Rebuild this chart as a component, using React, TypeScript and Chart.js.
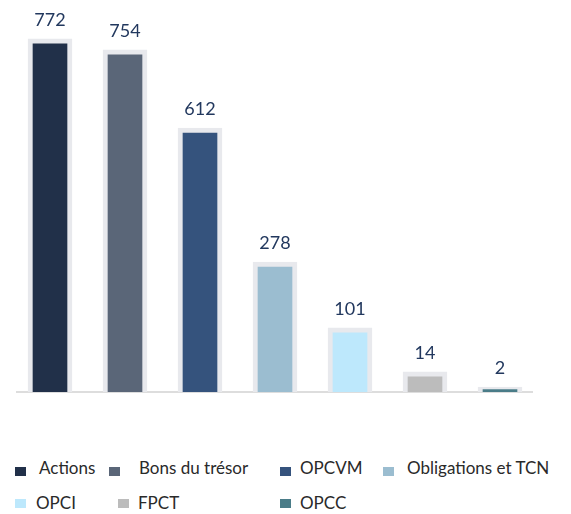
import React, { useEffect, useRef } from "react";
import { Chart, registerables } from "chart.js";

Chart.register(...registerables);

const categories = ["Actions", "Bons du trésor", "OPCVM", "Obligations et TCN", "OPCI", "FPCT", "OPCC"];
const valueLabels = [772, 754, 612, 278, 101, 14, 2];
// bar heights as drawn in the picture (not proportional to the printed counts)
const barHeights = [772, 748, 577, 284, 140, 44, 11];
const colors = ["#213049", "#5a6678", "#35537d", "#9bbdd0", "#bde8fc", "#bcbcbc", "#4a7c88"];
const frameColor = "#e8e9ed";

const legendLayout = [
  { box: 15, text: 39, row: 0 },
  { box: 109, text: 139, row: 0 },
  { box: 280, text: 300, row: 0 },
  { box: 383, text: 407, row: 0 },
  { box: 15, text: 36, row: 1 },
  { box: 118, text: 138, row: 1 },
  { box: 280, text: 300, row: 1 },
];

const labelPlugin = {
  id: "valueLabels",
  afterDatasetsDraw(chart: any) {
    const ctx = chart.ctx;
    const meta = chart.getDatasetMeta(0);
    ctx.save();
    ctx.font = "18px Lato";
    ctx.fillStyle = "#22385e";
    ctx.textAlign = "center";
    ctx.textBaseline = "alphabetic";
    meta.data.forEach((bar: any, i: number) => {
      ctx.fillText(String(valueLabels[i]), bar.x, bar.y - 13);
    });
    ctx.restore();
  },
  beforeDatasetsDraw(chart: any) {
    const { ctx, chartArea } = chart;
    ctx.save();
    ctx.strokeStyle = "#dddddd";
    ctx.lineWidth = 2;
    ctx.beginPath();
    ctx.moveTo(16, chartArea.bottom);
    ctx.lineTo(533, chartArea.bottom);
    ctx.stroke();
    ctx.restore();
  },
};

export default function App() {
  const ref = useRef<HTMLCanvasElement>(null);
  useEffect(() => {
    if (!ref.current) return;
    const chart = new Chart(ref.current, {
      type: "bar",
      data: {
        labels: categories,
        datasets: [
          {
            data: barHeights,
            backgroundColor: colors,
            borderColor: frameColor,
            borderWidth: 5,
            borderSkipped: "start",
            barThickness: 44,
          },
        ],
      },
      options: {
        responsive: false,
        animation: false,
        layout: { padding: { top: 26, bottom: 8, left: 12.5, right: 33.5 } },
        plugins: { legend: { display: false }, tooltip: { enabled: false } },
        scales: {
          x: { display: false, offset: true },
          y: { display: false, min: 0, max: 800 },
        },
      },
      plugins: [labelPlugin],
    });
    return () => chart.destroy();
  }, []);

  return (
    <div style={{ position: "fixed", left: 0, top: 0, width: 571, height: 514, background: "#fff", overflow: "hidden", fontFamily: "Lato" }}>
      <canvas ref={ref} width={571} height={400} style={{ display: "block" }} />
      {categories.map((c, i) => {
        const l = legendLayout[i];
        const baseline = l.row === 0 ? 475 : 510;
        const boxTop = l.row === 0 ? 467 : 499;
        return (
          <React.Fragment key={c}>
            <div style={{ position: "absolute", left: l.box, top: boxTop, width: 11, height: 9, background: colors[i] }} />
            <div style={{ position: "absolute", left: l.text, top: baseline - 16.6, fontSize: 17, lineHeight: "20px", color: "#2a2a2a", whiteSpace: "nowrap" }}>{c}</div>
          </React.Fragment>
        );
      })}
    </div>
  );
}
